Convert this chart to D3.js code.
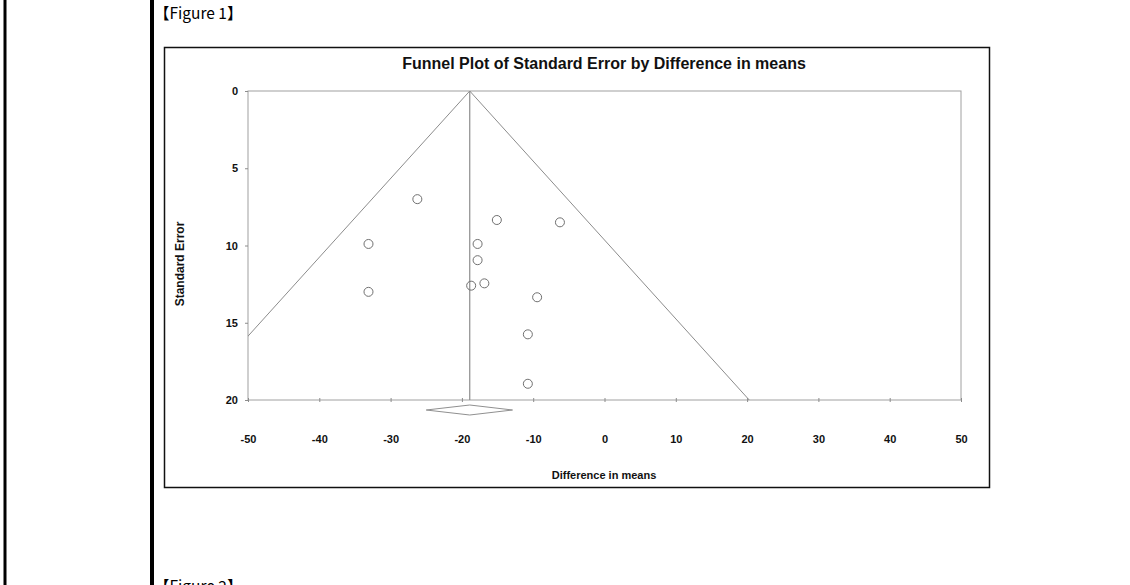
<!DOCTYPE html>
<html>
<head>
<meta charset="utf-8">
<script src="https://cdn.jsdelivr.net/npm/d3@7/dist/d3.min.js"></script>
<style>
  html, body { margin: 0; padding: 0; background: #fff; overflow: hidden; }
  svg { display: block; }
</style>
</head>
<body>
<svg id="chart" width="1130" height="585"></svg>
<script>
// ---- data ----
const figureLabels = ["【Figure 1】", "【Figure 2】"];
const chartTitle = "Funnel Plot of Standard Error by Difference in means";
const xTitle = "Difference in means";
const yTitle = "Standard Error";
const xTicks = [-50, -40, -30, -20, -10, 0, 10, 20, 30, 40, 50];
const yTicks = [0, 5, 10, 15, 20];
const studyDiff = [-26.25, -15.1, -6.25, -17.8, -17.8, -18.7, -16.85, -9.45, -10.75, -10.75, -33.1, -33.1];
const studySE   = [7.0, 8.35, 8.5, 9.9, 10.95, 12.6, 12.45, 13.35, 15.75, 18.95, 9.9, 13.0];
const pooledEstimate = -18.9;
const pooledCI = [-25.0, -12.9];
const zValue = 1.96;

// ---- layout ----
const svg = d3.select("#chart");
const plot = { left: 248, right: 961, top: 91, bottom: 400 };
const x = d3.scaleLinear().domain([-50, 50]).range([plot.left, plot.right]);
const y = d3.scaleLinear().domain([0, 20]).range([plot.top, plot.bottom]);
const lineGrey = "#8c8c8c";
const font = "'Liberation Sans', Arial, sans-serif";
const plainNum = d => String(d);

// page side bars
svg.append("rect").attr("x", 3.5).attr("y", 0).attr("width", 3).attr("height", 585).attr("fill", "#000");
svg.append("rect").attr("x", 150).attr("y", 0).attr("width", 4).attr("height", 585).attr("fill", "#000");

// figure labels
svg.append("text").attr("x", 154).attr("y", 18.5).text(figureLabels[0])
  .attr("font-family", "'Noto Sans CJK JP', sans-serif").attr("font-size", 15.5).attr("fill", "#000");
svg.append("text").attr("x", 154).attr("y", 592).text(figureLabels[1])
  .attr("font-family", "'Noto Sans CJK JP', sans-serif").attr("font-size", 15.5).attr("fill", "#000");

// figure frame
svg.append("rect").attr("x", 164.5).attr("y", 47.5).attr("width", 825).attr("height", 440)
  .attr("fill", "none").attr("stroke", "#111").attr("stroke-width", 1.5);

// title
svg.append("text").attr("x", 604).attr("y", 69).attr("text-anchor", "middle")
  .attr("font-family", font).attr("font-weight", "bold").attr("font-size", 16).attr("fill", "#111")
  .text(chartTitle);

// plot frame
svg.append("rect").attr("x", plot.left).attr("y", plot.top)
  .attr("width", plot.right - plot.left).attr("height", plot.bottom - plot.top)
  .attr("fill", "none").attr("stroke", "#a0a0a0").attr("stroke-width", 1);

// clip
svg.append("clipPath").attr("id", "clip").append("rect")
  .attr("x", plot.left).attr("y", plot.top)
  .attr("width", plot.right - plot.left).attr("height", plot.bottom - plot.top);

// x axis
const xAxis = d3.axisBottom(x).tickValues(xTicks).tickSize(0).tickPadding(0).tickFormat(plainNum);
const gx = svg.append("g").attr("transform", `translate(0,${plot.bottom})`).call(xAxis);
gx.select(".domain").remove();
gx.selectAll("text").attr("dy", 0).attr("y", 43)
  .attr("font-family", font).attr("font-weight", "bold").attr("font-size", 11).attr("fill", "#111");
gx.selectAll(".tick").append("line").attr("y1", -2).attr("y2", 2).attr("stroke", lineGrey);

// y axis
const yAxis = d3.axisLeft(y).tickValues(yTicks).tickSize(3).tickPadding(7).tickFormat(plainNum);
const gy = svg.append("g").attr("transform", `translate(${plot.left},0)`).call(yAxis);
gy.select(".domain").remove();
gy.selectAll("line").attr("stroke", lineGrey);
gy.selectAll("text").attr("font-family", font).attr("font-weight", "bold").attr("font-size", 11).attr("fill", "#111");

// axis titles
svg.append("text").attr("x", 604).attr("y", 479).attr("text-anchor", "middle")
  .attr("font-family", font).attr("font-weight", "bold").attr("font-size", 11).attr("fill", "#111")
  .text(xTitle);
svg.append("text").attr("transform", "translate(184,264) rotate(-90)").attr("text-anchor", "middle")
  .attr("font-family", font).attr("font-weight", "bold").attr("font-size", 12).attr("fill", "#111")
  .text(yTitle);

// funnel + centre line
const seMax = 20;
const funnel = [
  [pooledEstimate - zValue * seMax, seMax],
  [pooledEstimate, 0],
  [pooledEstimate + zValue * seMax, seMax]
];
const g = svg.append("g").attr("clip-path", "url(#clip)");
g.append("path").datum(funnel)
  .attr("d", d3.line().x(d => x(d[0])).y(d => y(d[1])))
  .attr("fill", "none").attr("stroke", lineGrey).attr("stroke-width", 1);
g.append("line").attr("x1", x(pooledEstimate)).attr("x2", x(pooledEstimate))
  .attr("y1", y(0)).attr("y2", y(seMax)).attr("stroke", lineGrey).attr("stroke-width", 1.2);

// points
svg.append("g").selectAll("circle").data(studyDiff).join("circle")
  .attr("cx", d => x(d)).attr("cy", (d, i) => y(studySE[i])).attr("r", 4.5)
  .attr("fill", "none").attr("stroke", "#707070").attr("stroke-width", 1);

// pooled diamond
const dy0 = y(seMax) + 10, dh = 5;
const diamond = [
  [x(pooledCI[0]), dy0], [x(pooledEstimate), dy0 - dh],
  [x(pooledCI[1]), dy0], [x(pooledEstimate), dy0 + dh]
];
svg.append("path").attr("d", "M" + diamond.map(p => p.join(",")).join("L") + "Z")
  .attr("fill", "none").attr("stroke", "#909090").attr("stroke-width", 1);
</script>
</body>
</html>
